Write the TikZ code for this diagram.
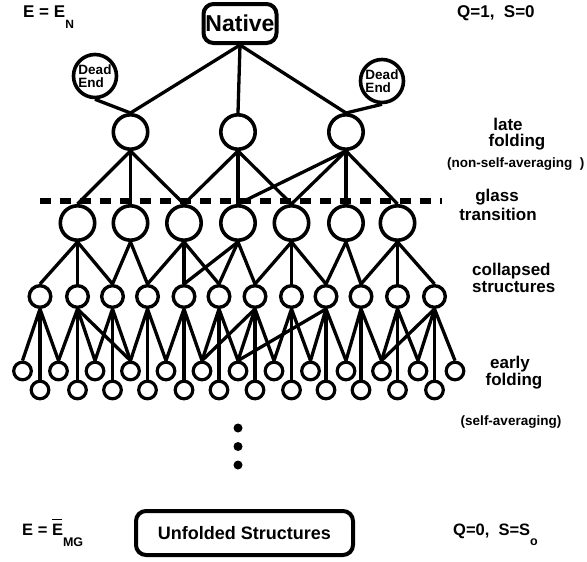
\documentclass[tikz,border=0pt]{standalone}
\usepackage{fontspec}
\setmainfont{Liberation Sans}
\begin{document}
\begin{tikzpicture}[x=1pt,y=-1pt,
  bignode/.style={circle,draw,line width=3.6pt,minimum size=34.4pt,inner sep=0pt},
  midnode/.style={circle,draw,line width=3.4pt,minimum size=21.6pt,inner sep=0pt},
  smallnode/.style={circle,draw,line width=3.2pt,minimum size=17.6pt,inner sep=0pt},
  deadnode/.style={circle,draw,line width=3.6pt,minimum size=43pt,inner sep=0pt,align=left,font=\bfseries\fontsize{13.5}{12.5}\selectfont},
  boxnode/.style={draw,line width=4pt,rounded corners=10pt,inner sep=0pt},
  lbl/.style={inner sep=0pt,font=\bfseries\fontsize{17}{17}\selectfont},
  slbl/.style={inner sep=0pt,font=\bfseries\fontsize{13.5}{13.5}\selectfont},
  edge/.style={line width=3.3pt},
  dotnode/.style={circle,fill,minimum size=9pt,inner sep=0pt},
]
\useasboundingbox (0,0) rectangle (587,562);

% glass transition dashed line
\coordinate (gl1) at (40,201);
\coordinate (gl2) at (442,201);
\draw[line width=6pt,dash pattern=on 11pt off 9pt] (gl1) -- (gl2);

% top
\node[boxnode,minimum width=73pt,minimum height=39pt,font=\bfseries\fontsize{23}{23}\selectfont] (nat) at (240,23.5) {Native};
\node[deadnode] (de1) at (95,76) {Dead\\End};
\node[deadnode] (de2) at (382,81) {Dead\\End};

% late folding layer
\foreach \n/\x in {a/130.5,b/238,c/346} \node[bignode] (\n) at (\x,132) {};

% layer below glass transition
\foreach \i/\x in {1/77.5,2/130.5,3/184,4/238,5/291.5,6/346,7/397.5}
  \node[bignode] (p\i) at (\x,223) {};

% collapsed structures
\foreach \i/\x in {1/40,2/77.5,3/112.5,4/147.5,5/184,6/219,7/255,8/291.5,9/326,10/361,11/397.5,12/434.5}{
  \node[midnode] (q\i) at (\x,296.5) {};
  \node[smallnode] (d\i) at (\x,390) {};
}

% early folding upper row
\foreach \i/\x in {1/22.5,2/58.5,3/95,4/130.5,5/166,6/202,7/238,8/274,9/310.5,10/346,11/381.5,12/418,13/455}
  \node[smallnode] (u\i) at (\x,371) {};

% edges
\foreach \s/\t in {nat/a,nat/b,nat/c,de1/a,de2/c,
  a/p1,a/p2,a/p3,b/p3,b/p4,b/p5,c/p4,c/p5,c/p6,c/p7,
  p1/q1,p1/q2,p1/q3,p2/q3,p2/q4,p3/q4,p3/q5,p3/q6,p4/q5,p4/q6,p4/q7,
  p5/q7,p5/q8,p5/q9,p6/q9,p6/q10,p7/q10,p7/q11,p7/q12,
  q1/u1,q1/u2,q2/u2,q2/u3,q2/u4,q3/u3,q3/u4,q4/u4,q4/u5,q5/u5,q5/u6,
  q6/u6,q6/u7,q7/u6,q7/u7,q7/u8,q8/u8,q8/u9,q9/u7,q9/u9,q9/u10,
  q10/u10,q10/u11,q11/u11,q11/u12,q12/u11,q12/u12,q12/u13}
  \draw[edge] (\s.south) -- (\t.north);
\foreach \i in {1,...,12} \draw[edge] (q\i.south) -- (d\i.north);

% dots
\node[dotnode] (dot1) at (238,428) {};
\node[dotnode] (dot2) at (238,446.5) {};
\node[dotnode] (dot3) at (238,465) {};

% labels
\node[lbl,anchor=base west] (en) at (23,17) {E = E\raisebox{-11pt}{\fontsize{12}{12}\selectfont N}};
\node[lbl,anchor=base west] (q1l) at (457,17) {Q=1,\ \ S=0};
\node[lbl,anchor=base] (late) at (508,130) {late};
\node[lbl,anchor=base] (fold1) at (517,146) {folding};
\node[slbl,anchor=base west] (nsa) at (447,167) {(non-self-averaging\ \ )};
\node[lbl,anchor=base] (glass) at (497,201) {glass};
\node[lbl,anchor=base] (trans) at (498,220) {transition};
\node[lbl,anchor=base west] (coll) at (472,275) {collapsed};
\node[lbl,anchor=base west] (struc) at (472,292) {structures};
\node[lbl,anchor=base] (early) at (510,368) {early};
\node[lbl,anchor=base] (fold2) at (514,385) {folding};
\node[slbl,anchor=base] (sa) at (511,425) {(self-averaging)};

% bottom
\node[boxnode,minimum width=217pt,minimum height=44pt,font=\bfseries\fontsize{18}{18}\selectfont] (unf) at (244.5,533) {Unfolded Structures};
\node[lbl,anchor=base west,font=\bfseries\fontsize{16.5}{16.5}\selectfont] (emg) at (22,535) {E = \rlap{\raisebox{15pt}{\rule{10pt}{1.3pt}}}E\raisebox{-11pt}{\fontsize{12.5}{12.5}\selectfont MG}};
\node[lbl,anchor=base west,font=\bfseries\fontsize{16.5}{16.5}\selectfont] (q0l) at (453,535) {Q=0,\ \ S=S\raisebox{-10pt}{\fontsize{12.5}{12.5}\selectfont o}};
\end{tikzpicture}
\end{document}
